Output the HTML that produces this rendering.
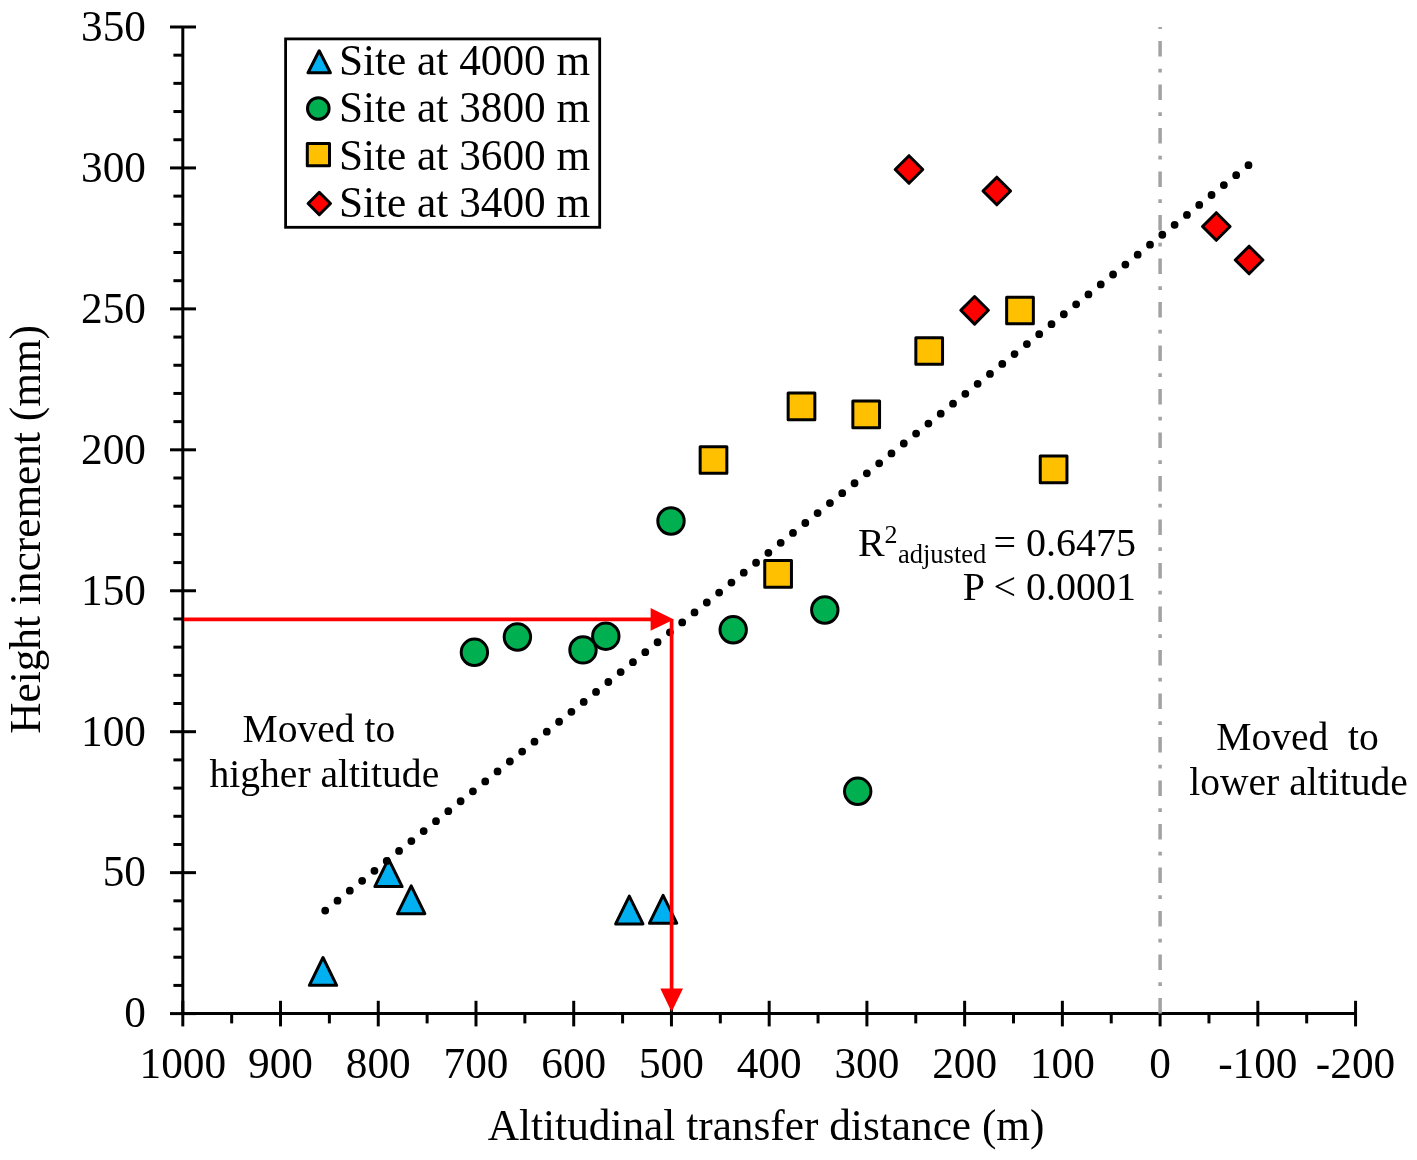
<!DOCTYPE html><html><head><meta charset="utf-8"><style>html,body{margin:0;padding:0;background:#fff;}svg{display:block;will-change:transform;}text{font-family:"Liberation Serif", serif;fill:#000;}</style></head><body>
<svg width="1417" height="1160" viewBox="0 0 1417 1160">
<rect width="1417" height="1160" fill="#fff"/>
<g stroke="#000" stroke-width="3.0" fill="none">
<line x1="182.80" y1="26.99" x2="182.80" y2="1013.60"/>
<line x1="182.80" y1="1013.60" x2="1355.56" y2="1013.60"/>
<line x1="170" y1="1013.60" x2="196" y2="1013.60"/>
<line x1="173.4" y1="985.41" x2="182.80" y2="985.41"/>
<line x1="173.4" y1="957.22" x2="182.80" y2="957.22"/>
<line x1="173.4" y1="929.03" x2="182.80" y2="929.03"/>
<line x1="173.4" y1="900.84" x2="182.80" y2="900.84"/>
<line x1="170" y1="872.65" x2="196" y2="872.65"/>
<line x1="173.4" y1="844.47" x2="182.80" y2="844.47"/>
<line x1="173.4" y1="816.28" x2="182.80" y2="816.28"/>
<line x1="173.4" y1="788.09" x2="182.80" y2="788.09"/>
<line x1="173.4" y1="759.90" x2="182.80" y2="759.90"/>
<line x1="170" y1="731.71" x2="196" y2="731.71"/>
<line x1="173.4" y1="703.52" x2="182.80" y2="703.52"/>
<line x1="173.4" y1="675.33" x2="182.80" y2="675.33"/>
<line x1="173.4" y1="647.14" x2="182.80" y2="647.14"/>
<line x1="173.4" y1="618.95" x2="182.80" y2="618.95"/>
<line x1="170" y1="590.76" x2="196" y2="590.76"/>
<line x1="173.4" y1="562.58" x2="182.80" y2="562.58"/>
<line x1="173.4" y1="534.39" x2="182.80" y2="534.39"/>
<line x1="173.4" y1="506.20" x2="182.80" y2="506.20"/>
<line x1="173.4" y1="478.01" x2="182.80" y2="478.01"/>
<line x1="170" y1="449.82" x2="196" y2="449.82"/>
<line x1="173.4" y1="421.63" x2="182.80" y2="421.63"/>
<line x1="173.4" y1="393.44" x2="182.80" y2="393.44"/>
<line x1="173.4" y1="365.25" x2="182.80" y2="365.25"/>
<line x1="173.4" y1="337.06" x2="182.80" y2="337.06"/>
<line x1="170" y1="308.88" x2="196" y2="308.88"/>
<line x1="173.4" y1="280.69" x2="182.80" y2="280.69"/>
<line x1="173.4" y1="252.50" x2="182.80" y2="252.50"/>
<line x1="173.4" y1="224.31" x2="182.80" y2="224.31"/>
<line x1="173.4" y1="196.12" x2="182.80" y2="196.12"/>
<line x1="170" y1="167.93" x2="196" y2="167.93"/>
<line x1="173.4" y1="139.74" x2="182.80" y2="139.74"/>
<line x1="173.4" y1="111.55" x2="182.80" y2="111.55"/>
<line x1="173.4" y1="83.36" x2="182.80" y2="83.36"/>
<line x1="173.4" y1="55.17" x2="182.80" y2="55.17"/>
<line x1="170" y1="26.99" x2="196" y2="26.99"/>
<line x1="182.80" y1="1000.8" x2="182.80" y2="1026.4"/>
<line x1="231.67" y1="1013.60" x2="231.67" y2="1023.4"/>
<line x1="280.53" y1="1000.8" x2="280.53" y2="1026.4"/>
<line x1="329.39" y1="1013.60" x2="329.39" y2="1023.4"/>
<line x1="378.26" y1="1000.8" x2="378.26" y2="1026.4"/>
<line x1="427.12" y1="1013.60" x2="427.12" y2="1023.4"/>
<line x1="475.99" y1="1000.8" x2="475.99" y2="1026.4"/>
<line x1="524.86" y1="1013.60" x2="524.86" y2="1023.4"/>
<line x1="573.72" y1="1000.8" x2="573.72" y2="1026.4"/>
<line x1="622.59" y1="1013.60" x2="622.59" y2="1023.4"/>
<line x1="671.45" y1="1000.8" x2="671.45" y2="1026.4"/>
<line x1="720.32" y1="1013.60" x2="720.32" y2="1023.4"/>
<line x1="769.18" y1="1000.8" x2="769.18" y2="1026.4"/>
<line x1="818.05" y1="1013.60" x2="818.05" y2="1023.4"/>
<line x1="866.91" y1="1000.8" x2="866.91" y2="1026.4"/>
<line x1="915.77" y1="1013.60" x2="915.77" y2="1023.4"/>
<line x1="964.64" y1="1000.8" x2="964.64" y2="1026.4"/>
<line x1="1013.50" y1="1013.60" x2="1013.50" y2="1023.4"/>
<line x1="1062.37" y1="1000.8" x2="1062.37" y2="1026.4"/>
<line x1="1111.23" y1="1013.60" x2="1111.23" y2="1023.4"/>
<line x1="1160.10" y1="1013.60" x2="1160.10" y2="1026.4"/>
<line x1="1208.96" y1="1013.60" x2="1208.96" y2="1023.4"/>
<line x1="1257.83" y1="1000.8" x2="1257.83" y2="1026.4"/>
<line x1="1306.69" y1="1013.60" x2="1306.69" y2="1023.4"/>
<line x1="1355.56" y1="1000.8" x2="1355.56" y2="1026.4"/>
</g>
<line x1="1160.10" y1="1013.60" x2="1160.10" y2="26.99" stroke="#A2A2A2" stroke-width="3.5" stroke-dasharray="15.5 12 3.9 12.1"/>
<g font-size="43.3" text-anchor="end">
<text x="146" y="1027.40">0</text>
<text x="146" y="886.45">50</text>
<text x="146" y="745.51">100</text>
<text x="146" y="604.56">150</text>
<text x="146" y="463.62">200</text>
<text x="146" y="322.68">250</text>
<text x="146" y="181.73">300</text>
<text x="146" y="40.79">350</text>
</g>
<g font-size="43.3" text-anchor="middle">
<text x="182.80" y="1078">1000</text>
<text x="280.53" y="1078">900</text>
<text x="378.26" y="1078">800</text>
<text x="475.99" y="1078">700</text>
<text x="573.72" y="1078">600</text>
<text x="671.45" y="1078">500</text>
<text x="769.18" y="1078">400</text>
<text x="866.91" y="1078">300</text>
<text x="964.64" y="1078">200</text>
<text x="1062.37" y="1078">100</text>
<text x="1160.10" y="1078">0</text>
<text x="1257.83" y="1078">-100</text>
<text x="1355.56" y="1078">-200</text>
</g>
<text font-size="43.3" text-anchor="middle" x="766.1" y="1139.9">Altitudinal transfer distance (m)</text>
<text font-size="43.3" text-anchor="middle" transform="translate(39.8 529.4) rotate(-90)">Height increment (mm)</text>
<g stroke="#000" stroke-width="3" stroke-linejoin="round">
<g fill="#00B0F0"><path d="M323.00 957.50L336.65 985.30L309.35 985.30Z"/><path d="M388.50 858.80L402.15 886.60L374.85 886.60Z"/><path d="M411.20 885.90L424.85 913.70L397.55 913.70Z"/><path d="M629.30 896.10L642.95 923.90L615.65 923.90Z"/><path d="M663.10 895.40L676.75 923.20L649.45 923.20Z"/></g>
<g fill="#00B050"><circle cx="474.40" cy="652.30" r="13.20"/><circle cx="517.40" cy="637.00" r="13.20"/><circle cx="583.00" cy="649.90" r="13.20"/><circle cx="605.80" cy="636.20" r="13.20"/><circle cx="671.00" cy="521.00" r="13.20"/><circle cx="733.20" cy="629.80" r="13.20"/><circle cx="824.80" cy="610.00" r="13.20"/><circle cx="857.70" cy="791.30" r="13.20"/></g>
<g fill="#FFC000"><rect x="700.15" y="446.65" width="26.70" height="26.70"/><rect x="788.15" y="392.95" width="26.70" height="26.70"/><rect x="852.85" y="400.95" width="26.70" height="26.70"/><rect x="764.75" y="560.55" width="26.70" height="26.70"/><rect x="915.85" y="337.65" width="26.70" height="26.70"/><rect x="1006.65" y="297.15" width="26.70" height="26.70"/><rect x="1040.25" y="456.05" width="26.70" height="26.70"/></g>
<g fill="#FF0000"><path d="M909.00 155.70L922.80 169.50L909.00 183.30L895.20 169.50Z"/><path d="M996.80 177.20L1010.60 191.00L996.80 204.80L983.00 191.00Z"/><path d="M974.60 296.50L988.40 310.30L974.60 324.10L960.80 310.30Z"/><path d="M1216.30 212.70L1230.10 226.50L1216.30 240.30L1202.50 226.50Z"/><path d="M1249.10 246.20L1262.90 260.00L1249.10 273.80L1235.30 260.00Z"/></g>
</g>
<line x1="325.2" y1="910.6" x2="1248.6" y2="165.1" stroke="#000" stroke-width="7.8" stroke-linecap="round" stroke-dasharray="0 15.8217"/>
<g fill="#FF0000">
<line x1="184" y1="619.4" x2="652" y2="619.4" stroke="#FF0000" stroke-width="3.7"/>
<path d="M650.6 608L673.9 619.4L650.6 630.8Z"/>
<line x1="671.6" y1="619.4" x2="671.6" y2="990" stroke="#FF0000" stroke-width="3.7"/>
<path d="M660.3 988.4L683 988.4L671.6 1012Z"/>
</g>
<g font-size="39.6">
<text x="242.5" y="742.3">Moved to</text>
<text x="209.5" y="787.3">higher altitude</text>
<text x="1216.2" y="750.1" xml:space="preserve">Moved  to</text>
<text x="1189.2" y="794.5">lower altitude</text>
</g>
<text font-size="40" x="858" y="555.5">R</text>
<text font-size="26" x="884.5" y="542.8">2</text>
<text font-size="26.5" x="898" y="563.4">adjusted</text>
<text font-size="40" text-anchor="end" x="1136" y="555.5">= 0.6475</text>
<text font-size="40" text-anchor="end" x="1136" y="600">P &lt; 0.0001</text>
<rect x="285.6" y="38.9" width="314.1" height="188.4" fill="#fff" stroke="#000" stroke-width="2.8"/>
<g stroke="#000" stroke-width="3" stroke-linejoin="round">
<g fill="#00B0F0"><path d="M319.20 50.80L330.40 72.80L308.00 72.80Z"/></g>
<g fill="#00B050"><circle cx="318.30" cy="108.50" r="10.80"/></g>
<g fill="#FFC000"><rect x="307.30" y="143.60" width="22.20" height="22.20"/></g>
<g fill="#FF0000"><path d="M319.30 192.30L330.50 203.50L319.30 214.70L308.10 203.50Z"/></g>
</g>
<g font-size="43.3">
<text x="338.9" y="74.7">Site at 4000 m</text>
<text x="338.9" y="121.8">Site at 3800 m</text>
<text x="338.9" y="169.6">Site at 3600 m</text>
<text x="338.9" y="216.6">Site at 3400 m</text>
</g>
</svg></body></html>
